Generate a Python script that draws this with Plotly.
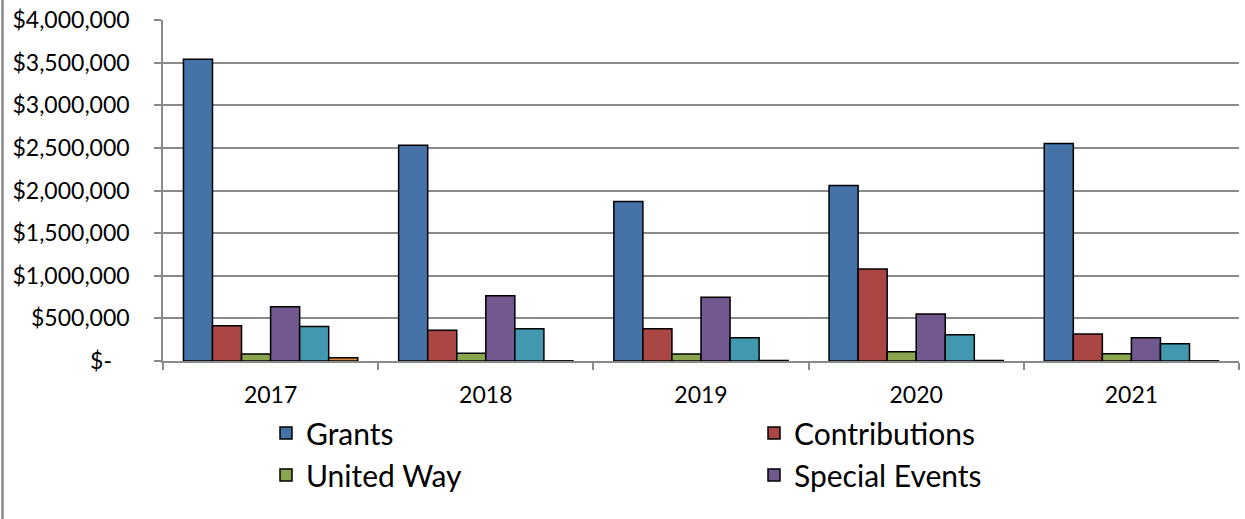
import plotly.graph_objects as go

years = ["2017", "2018", "2019", "2020", "2021"]
grants = [3540000, 2530000, 1870000, 2060000, 2550000]
contributions = [413000, 362000, 378000, 1080000, 316000]
united_way = [82000, 90000, 82000, 109000, 86000]
special_events = [635000, 764000, 748000, 550000, 273000]
series5 = [406000, 378000, 273000, 308000, 203000]
series6 = [39000, 2000, 6000, 6000, 2000]

series_names = ["Grants", "Contributions", "United Way", "Special Events", "Series 5", "Series 6"]
series_values = [grants, contributions, united_way, special_events, series5, series6]
series_colors = ["#4572A7", "#AA4643", "#89A54E", "#71588F", "#4198AF", "#DB843D"]
in_legend = [True, True, True, True, False, False]

y_ticks = [0, 500000, 1000000, 1500000, 2000000, 2500000, 3000000, 3500000, 4000000]
y_text = ["$-\u00a0\u00a0\u00a0" if v == 0 else "${:,}".format(v) for v in y_ticks]

FONT = "Lato"
GRAY = "#8a8a8a"

fig = go.Figure()
for name, vals, col, leg in zip(series_names, series_values, series_colors, in_legend):
    fig.add_trace(go.Bar(
        x=years, y=vals, name=name, showlegend=leg,
        marker=dict(color=col, line=dict(color="black", width=1.5)),
    ))

W, H = 1245, 519
L, R, T, B = 163, 6, 20, 158
pw, ph = W - L - R, H - T - B

fig.update_layout(
    width=W, height=H,
    margin=dict(l=L, r=R, t=T, b=B, autoexpand=False),
    paper_bgcolor="white", plot_bgcolor="white",
    barmode="group", bargap=0.19, bargroupgap=0,
    font=dict(family=FONT, size=23, color="black"),
    legend=dict(
        orientation="h", xref="container", yref="container",
        x=266 / W, xanchor="left",
        y=1 - 407 / H, yanchor="top",
        entrywidth=443, entrywidthmode="pixels",
        font=dict(family=FONT, size=30, color="black"),
        bgcolor="rgba(0,0,0,0)", traceorder="normal",
    ),
    xaxis=dict(
        type="category", showline=True, linecolor=GRAY, linewidth=1.5,
        ticks="outside", ticklen=7, tickcolor=GRAY, tickwidth=1.5,
        tickson="boundaries", showgrid=False, ticklabelstandoff=13,
        tickfont=dict(family=FONT, size=23, color="black"),
    ),
    yaxis=dict(
        range=[0, 4000000], tickvals=y_ticks, ticktext=y_text,
        showline=True, linecolor=GRAY, linewidth=1.5,
        ticks="outside", ticklen=7, tickcolor=GRAY, tickwidth=1.5,
        showgrid=True, gridcolor=GRAY, gridwidth=1.5, zeroline=False,
        ticklabelstandoff=20,
        tickfont=dict(family=FONT, size=23, color="black"),
    ),
    shapes=[dict(
        type="line", xref="paper", yref="paper",
        x0=(2.5 - L) / pw, x1=(2.5 - L) / pw,
        y0=-B / ph, y1=1 + T / ph,
        line=dict(color=GRAY, width=2.5),
    )],
)

fig.write_html("out.html", config={"displayModeBar": False},
               post_script="document.body.style.margin='0px';")
